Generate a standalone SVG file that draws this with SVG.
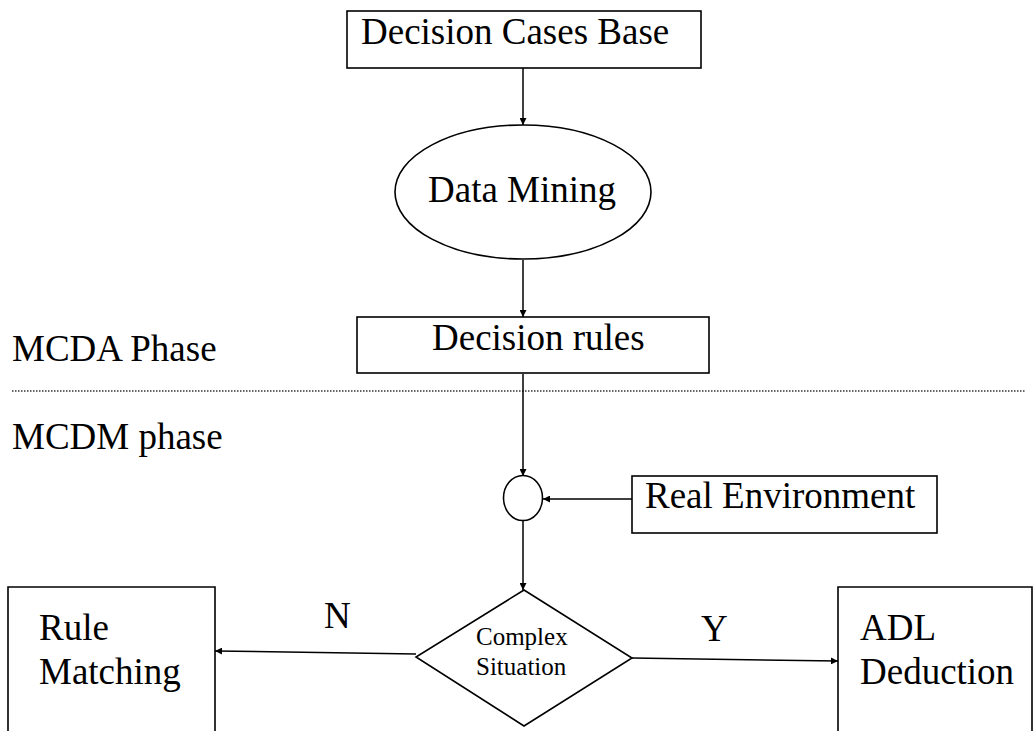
<svg xmlns="http://www.w3.org/2000/svg" width="1035" height="731" viewBox="0 0 1035 731">
  <style>
    .box { fill: #ffffff; stroke: #000000; stroke-width: 1.6; }
    .edge { fill: none; stroke: #000000; stroke-width: 1.5; }
    .lbl { font-family: "Liberation Serif", "Times New Roman", serif; font-size: 37px; fill: #000000; }
    .small { font-family: "Liberation Serif", "Times New Roman", serif; font-size: 25px; fill: #000000; }
    .sep { stroke: #333333; stroke-width: 1.3; stroke-dasharray: 1.5 1.5; }
  </style>
  <defs>
    <marker id="arrow" viewBox="0 0 10 10" refX="10" refY="5" markerWidth="7" markerHeight="7" orient="auto" markerUnits="userSpaceOnUse">
      <path d="M0,0 L10,5 L0,10 z" fill="#000000"/>
    </marker>
  </defs>

  <rect width="1035" height="731" fill="#ffffff"/>

  <!-- phase labels and separator -->
  <g id="phases">
    <text class="lbl" x="12" y="361">MCDA Phase</text>
    <line class="sep" x1="12" y1="391" x2="1025" y2="391"/>
    <text class="lbl" x="12" y="449">MCDM phase</text>
  </g>

  <!-- connectors -->
  <g id="connectors">
    <line class="edge" x1="523" y1="68" x2="523" y2="125" marker-end="url(#arrow)"/>
    <line class="edge" x1="523" y1="260" x2="523" y2="317" marker-end="url(#arrow)"/>
    <line class="edge" x1="523" y1="374" x2="523" y2="476" marker-end="url(#arrow)"/>
    <line class="edge" x1="632" y1="499" x2="543" y2="499" marker-end="url(#arrow)"/>
    <line class="edge" x1="523" y1="521" x2="523" y2="590" marker-end="url(#arrow)"/>
    <line class="edge" x1="416" y1="654" x2="215" y2="651" marker-end="url(#arrow)"/>
    <line class="edge" x1="632" y1="658" x2="838" y2="661" marker-end="url(#arrow)"/>
    <text class="lbl" x="324" y="628">N</text>
    <text class="lbl" x="701" y="641">Y</text>
  </g>

  <g id="decision-cases-base">
    <rect class="box" x="347" y="11" width="354" height="57"/>
    <text class="lbl" x="361" y="44">Decision Cases Base</text>
  </g>

  <g id="data-mining">
    <ellipse class="box" cx="523" cy="192" rx="128" ry="67"/>
    <text class="lbl" x="428" y="202">Data Mining</text>
  </g>

  <g id="decision-rules">
    <rect class="box" x="357" y="317" width="352" height="56"/>
    <text class="lbl" x="432" y="350">Decision rules</text>
  </g>

  <g id="junction">
    <ellipse class="box" cx="523" cy="498" rx="19.5" ry="22.5"/>
  </g>

  <g id="real-environment">
    <rect class="box" x="632" y="476" width="305" height="57"/>
    <text class="lbl" x="645" y="508">Real Environment</text>
  </g>

  <g id="complex-situation">
    <polygon class="box" points="524,590 632,658 524,726 416,657"/>
    <text class="small" x="476" y="645">Complex</text>
    <text class="small" x="476" y="675">Situation</text>
  </g>

  <g id="rule-matching">
    <path class="box" d="M8,735 L8,587 L215,587 L215,735"/>
    <text class="lbl" x="39" y="640">Rule</text>
    <text class="lbl" x="39" y="684">Matching</text>
  </g>

  <g id="adl-deduction">
    <path class="box" d="M838,735 L838,587 L1032,587 L1032,735"/>
    <text class="lbl" x="860" y="640">ADL</text>
    <text class="lbl" x="860" y="684">Deduction</text>
  </g>
</svg>
